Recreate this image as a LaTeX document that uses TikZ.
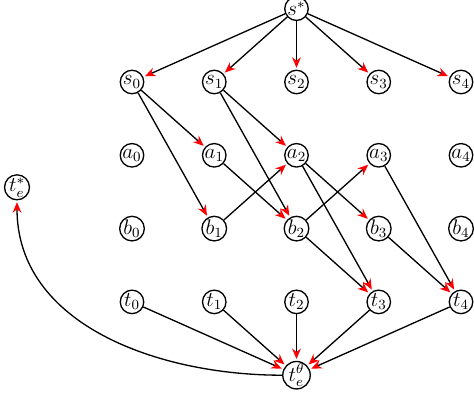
\documentclass[tikz,border=0pt]{standalone}
\usepackage{amsmath}
\usepackage{amssymb}
\usepackage{tikz}
\usetikzlibrary{automata,positioning,arrows.meta}

\begin{document}
\begin{tikzpicture}[shorten >=1pt,node distance=1.466cm and 1.645cm,on grid,line width=0.75pt,
  >={Stealth[red,length=6pt,width=5pt]},
  every state/.style={draw,minimum size=0.47cm,inner sep=0pt,font=\large}]
\useasboundingbox (-2.64,-6.5) rectangle (6.84,1.64);
\node[state] (s_0) {$s_0$};
\node[state] (s_1) [right=of s_0] {$s_1$};
\node[state] (s_2) [right=of s_1] {$s_2$};
\node[state] (s_3) [right=of s_2] {$s_3$};
\node[state] (s_4) [right=of s_3] {$s_4$};
\node[state] (s_st) [above=of s_2] {$s^*$};
\node[state] (a_0) [below=of s_0] {$a_0$};
\node[state] (a_1) [right=of a_0] {$a_1$};
\node[state] (a_2) [right=of a_1] {$a_2$};
\node[state] (a_3) [right=of a_2] {$a_3$};
\node[state] (a_4) [right=of a_3] {$a_4$};
\node[state] (b_0) [below=of a_0] {$b_0$};
\node[state] (b_1) [right=of b_0] {$b_1$};
\node[state] (b_2) [right=of b_1] {$b_2$};
\node[state] (b_3) [right=of b_2] {$b_3$};
\node[state] (b_4) [right=of b_3] {$b_4$};
\node[state] (t_0) [below=of b_0] {$t_0$};
\node[state] (t_1) [right=of t_0] {$t_1$};
\node[state] (t_2) [right=of t_1] {$t_2$};
\node[state] (t_3) [right=of t_2] {$t_3$};
\node[state] (t_4) [right=of t_3] {$t_4$};
\node[state] (te_th) [below=of t_2] {$t_e^\theta$};
\node[state] (te_st) [below left=0.64cm and 2.3cm of a_0] {$t_e^*$};
\path[->]

(s_st) edge (s_0)
edge (s_1)
edge (s_2)
edge (s_3)
edge (s_4)
(s_0) edge (a_1)
edge (b_1)
(s_1) edge (a_2)
edge (b_2)
(a_1) edge (b_2)
(b_1) edge (a_2)
(a_2) edge (b_3)
edge (t_3)
(b_2) edge (a_3)
edge (t_3)
(a_3) edge (t_4)
(b_3) edge (t_4)
(t_0) edge (te_th)
(t_1) edge (te_th)
(t_2) edge (te_th)
(t_3) edge (te_th)
(t_4) edge (te_th)
(te_th) edge [out=180,in=-90] (te_st)
;
\end{tikzpicture}
\end{document}
